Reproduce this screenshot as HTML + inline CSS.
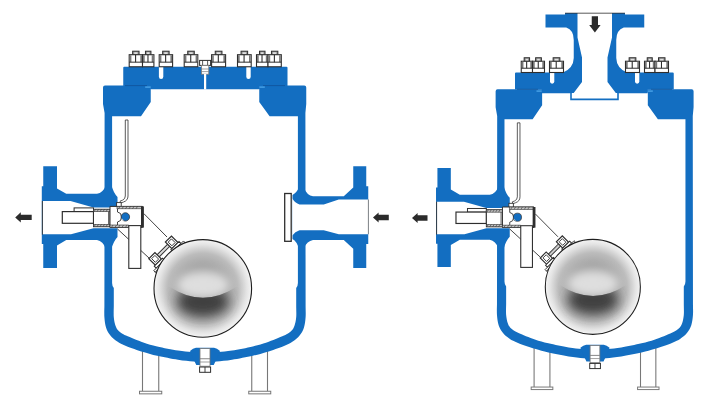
<!DOCTYPE html>
<html lang="en"><head><meta charset="utf-8"><title>Float trap section diagrams</title>
<style>
html,body{margin:0;padding:0;background:#fff;}
body{width:706px;height:404px;overflow:hidden;font-family:"Liberation Sans",sans-serif;}
svg{display:block;}
</style></head><body>
<svg width="706" height="404" viewBox="0 0 706 404">
<defs>
<radialGradient id="fga" cx="202.8" cy="288.4" r="48.8" gradientUnits="userSpaceOnUse">
<stop offset="0" stop-color="#909090"/><stop offset="0.45" stop-color="#a2a2a2"/><stop offset="0.72" stop-color="#bcbcbc"/><stop offset="0.9" stop-color="#e4e4e4"/><stop offset="1" stop-color="#f4f4f4"/></radialGradient>
<filter id="b5a" x="-50%" y="-50%" width="200%" height="200%"><feGaussianBlur stdDeviation="5"/></filter>
<filter id="b4a" x="-50%" y="-50%" width="200%" height="200%"><feGaussianBlur stdDeviation="6"/></filter>
<clipPath id="fca"><path d="M150,235 L256,235 L256,287 L236,287 Q203,308.5 170,287 L150,287 Z"/></clipPath>
<clipPath id="fda"><path d="M169,286.5 Q203,309 237,286.5 L252,300 L240,338 L166,338 L154,300 Z"/></clipPath>
<radialGradient id="fgb" cx="202.8" cy="288.4" r="48.8" gradientUnits="userSpaceOnUse">
<stop offset="0" stop-color="#909090"/><stop offset="0.45" stop-color="#a2a2a2"/><stop offset="0.72" stop-color="#bcbcbc"/><stop offset="0.9" stop-color="#e4e4e4"/><stop offset="1" stop-color="#f4f4f4"/></radialGradient>
<filter id="b5b" x="-50%" y="-50%" width="200%" height="200%"><feGaussianBlur stdDeviation="5"/></filter>
<filter id="b4b" x="-50%" y="-50%" width="200%" height="200%"><feGaussianBlur stdDeviation="6"/></filter>
<clipPath id="fcb"><path d="M150,235 L256,235 L256,287 L236,287 Q203,308.5 170,287 L150,287 Z"/></clipPath>
<clipPath id="fdb"><path d="M169,286.5 Q203,309 237,286.5 L252,300 L240,338 L166,338 L154,300 Z"/></clipPath>
</defs>
<rect width="706" height="404" fill="#fff"/>
<g id="left-figure">
<path d="M142.5,340 L142.5,391.25 M158.75,340 L158.75,391.25" stroke="#777" stroke-width="1.1" fill="none"/>
<rect x="139.5" y="391.25" width="22.25" height="2.6" fill="#fff" stroke="#777" stroke-width="1"/>
<path d="M251.75,340 L251.75,391.25 M267.5,340 L267.5,391.25" stroke="#777" stroke-width="1.1" fill="none"/>
<rect x="248.75" y="391.25" width="22.0" height="2.6" fill="#fff" stroke="#777" stroke-width="1"/>
<path fill="#136ec1" d="M105,85.5 L304.25,85.5 Q306.25,85.5 306.25,87.5 L306.25,104 L305.4,113 L305.6,300 L305.60,306.00 C305.60,307.88 305.88,313.68 305.60,317.30 C305.32,320.92 304.90,324.67 303.90,327.70 C302.90,330.73 301.47,333.18 299.60,335.50 C297.73,337.82 295.30,339.87 292.70,341.60 C290.10,343.33 288.33,344.17 284.00,345.90 C279.67,347.63 271.90,350.35 266.70,352.00 C261.50,353.65 258.58,354.50 252.80,355.80 C247.02,357.10 238.05,358.83 232.00,359.80 C225.95,360.77 221.00,361.20 216.50,361.60 C212.00,362.00 208.83,362.20 205.00,362.20 C201.17,362.20 198.00,362.00 193.50,361.60 C189.00,361.20 184.05,360.77 178.00,359.80 C171.95,358.83 162.98,357.10 157.20,355.80 C151.42,354.50 148.50,353.65 143.30,352.00 C138.10,350.35 130.33,347.63 126.00,345.90 C121.67,344.17 119.90,343.33 117.30,341.60 C114.70,339.87 112.27,337.82 110.40,335.50 C108.53,333.18 107.10,330.73 106.10,327.70 C105.10,324.67 104.68,320.92 104.40,317.30 C104.12,313.68 104.40,307.88 104.40,306.00 L104.6,113 L103,104 L103,87.5 Q103,85.5 105,85.5 Z"/>
<path fill="#136ec1" d="M43.25,166.25 L57,166.25 L57,188.5 L66.25,193.75 L97,193.75 Q103,193 106,185 L111,185 Q113,193 117.5,197 L117.5,237 Q113,241 111,249 L106,249 Q103,241 97,240 L66.25,240 L57,245.5 L57,268 L43.25,268 L43.25,244 L41.8,244 L41.8,186.25 L43.25,186.25 Z"/>
<path fill="#136ec1" d="M366.25,166.25 L353.25,166.25 L353.25,187.5 L343.75,196.25 L313,196.25 Q307,195.5 304,188 L299,188 Q297,192.5 292.5,195 L292.5,239 Q297,241.5 299,248 L304,248 Q307,241 313,240 L343.75,240 L353.25,248.75 L353.25,268 L366.25,268 L366.25,244 L368.25,244 L368.25,186.25 L366.25,186.25 Z"/>
<path fill="#fff" d="M150.75,88.75 L259.25,88.75 L259.25,102 L269.6,116.25 L297.9,116.25 L297.9,283 Q297.9,286 296.2,288 L296.20,306.00 C296.20,307.88 296.50,313.97 296.20,317.30 C295.90,320.63 295.27,323.68 294.40,326.00 C293.53,328.32 292.73,329.62 291.00,331.20 C289.27,332.78 288.05,333.63 284.00,335.50 C279.95,337.37 271.90,340.58 266.70,342.40 C261.50,344.22 258.58,345.03 252.80,346.40 C247.02,347.77 237.77,349.65 232.00,350.60 C226.23,351.55 222.70,351.75 218.20,352.10 C213.70,352.45 209.40,352.70 205.00,352.70 C200.60,352.70 196.30,352.45 191.80,352.10 C187.30,351.75 183.77,351.55 178.00,350.60 C172.23,349.65 162.98,347.77 157.20,346.40 C151.42,345.03 148.50,344.22 143.30,342.40 C138.10,340.58 130.05,337.37 126.00,335.50 C121.95,333.63 120.73,332.78 119.00,331.20 C117.27,329.62 116.47,328.32 115.60,326.00 C114.73,323.68 114.10,320.63 113.80,317.30 C113.50,313.97 113.80,307.88 113.80,306.00 L113.8,288 Q112.1,286 112.1,283 L112.1,116.25 L141,116.25 L150.75,102 Z"/>
<path fill="#136ec1" d="M111,184 Q113.5,193 117.5,197 L117.5,237 Q113.5,241 111,250 Z"/>
<path fill="#136ec1" d="M299,187 Q297,192.5 292.5,195 L292.5,239 Q297,241.5 299,249 Z"/>
<path fill="#fff" d="M368.5,199.5 L338.75,199.5 L323.75,204.5 L299.5,204.5 Q295,203 292.3,198.5 L292.3,235.5 Q295,231.5 299.5,230.25 L323.75,230.25 L338.75,234.25 L368.5,234.25 Z"/>
<rect x="284.7" y="193.5" width="6.5" height="47.8" fill="#fff" stroke="#2e2e2e" stroke-width="1.3"/>
<line x1="368.4" y1="199.5" x2="368.4" y2="234.25" stroke="#555" stroke-width="0.7"/>
<path fill="#fff" d="M42.6,201 L70.5,201 L93.5,207.5 L117.8,207.5 L117.8,228.3 L93.5,228.3 L71,234.3 L42.6,234.3 Z"/>
<line x1="42.4" y1="201" x2="42.4" y2="234.7" stroke="#2e2e2e" stroke-width="0.9"/>
<path fill="#136ec1" d="M190,351 Q193,348 196,347.8 L214,347.8 Q217,348 220,351 L217,358 L213.75,365 L196.25,365 L193,358 Z"/>
<rect x="200" y="348.6" width="10" height="17.6" fill="#fff" stroke="#777" stroke-width="0.8"/>
<line x1="200" y1="358.75" x2="210" y2="358.75" stroke="#777" stroke-width="0.9"/>
<line x1="200" y1="362" x2="210" y2="362" stroke="#777" stroke-width="0.7"/>
<rect x="199.6" y="367" width="11" height="5.3" fill="#fff" stroke="#2e2e2e" stroke-width="1"/>
<line x1="205" y1="367" x2="205" y2="372.3" stroke="#2e2e2e" stroke-width="0.9"/>
<path d="M125.3,120 L128,120 L128,196 Q128,200.5 123.5,202 L121,203 L120,201.2 L122.5,200.2 Q125.3,199 125.3,196 Z" fill="#fff" stroke="#2e2e2e" stroke-width="0.8"/>
<rect x="116.6" y="202.6" width="4.6" height="4.6" fill="#fff" stroke="#2e2e2e" stroke-width="0.9"/>
<path d="M143.75,213.5 L167,237 M117.5,229 L149,258" stroke="#2e2e2e" stroke-width="0.9" fill="none"/>
<rect x="74.1" y="207.9" width="19.4" height="3.8" fill="#fff" stroke="#2e2e2e" stroke-width="1"/>
<rect x="62.3" y="211.6" width="31.2" height="11.7" fill="#fff" stroke="#2e2e2e" stroke-width="1.2"/>
<rect x="93.5" y="209.3" width="16.5" height="17.4" fill="#fff" stroke="#2e2e2e" stroke-width="1"/>
<rect x="93.5" y="209.3" width="16.5" height="2.4" fill="#c4c4c4" stroke="#2e2e2e" stroke-width="0.6"/>
<rect x="93.5" y="224.3" width="16.5" height="2.4" fill="#c4c4c4" stroke="#2e2e2e" stroke-width="0.6"/>
<path d="M95.5,209.3 l-1.5,2.4 M98.5,209.3 l-1.5,2.4 M101.5,209.3 l-1.5,2.4 M104.5,209.3 l-1.5,2.4 M107.5,209.3 l-1.5,2.4 M95.5,224.3 l-1.5,2.4 M98.5,224.3 l-1.5,2.4 M101.5,224.3 l-1.5,2.4 M104.5,224.3 l-1.5,2.4 M107.5,224.3 l-1.5,2.4" stroke="#2e2e2e" stroke-width="0.6"/>
<line x1="108.6" y1="211.7" x2="108.6" y2="224.3" stroke="#2e2e2e" stroke-width="0.8"/>
<path d="M110,206.4 L142.4,206.4 L142.4,227.4 L110,227.4 Z" fill="#fff" stroke="#2e2e2e" stroke-width="1"/>
<rect x="117" y="206.4" width="25" height="2.4" fill="#c4c4c4" stroke="#2e2e2e" stroke-width="0.6"/>
<rect x="110" y="225" width="18.6" height="2.4" fill="#c4c4c4" stroke="#2e2e2e" stroke-width="0.6"/>
<path d="M120,206.4 l-1.5,2.4 M123.5,206.4 l-1.5,2.4 M127,206.4 l-1.5,2.4 M130.5,206.4 l-1.5,2.4 M134,206.4 l-1.5,2.4 M137.5,206.4 l-1.5,2.4 M113,225 l-1.5,2.4 M116.5,225 l-1.5,2.4 M120,225 l-1.5,2.4 M123.5,225 l-1.5,2.4 M127,225 l-1.5,2.4" stroke="#2e2e2e" stroke-width="0.6"/>
<rect x="141" y="206.4" width="2.9" height="21.2" fill="#2e2e2e"/>
<path d="M117.5,209 L117.5,212 Q121.5,212.5 121.5,217 Q121.5,221.5 117.5,222 L117.5,225" fill="none" stroke="#2e2e2e" stroke-width="0.9"/>
<circle cx="125.4" cy="216.9" r="4.2" fill="#136ec1" stroke="#2e2e2e" stroke-width="0.7"/>
<path d="M121.4,218 A4.2,4.2 0 0 0 124.3,221 Z" fill="#fff"/>
<rect x="128.8" y="225.6" width="12" height="42.8" fill="#fff" stroke="#2e2e2e" stroke-width="1.1"/>
<g transform="translate(163.4,250.6) rotate(-45)">
<path d="M-8,-1.5 L8,-1.5 M-8,1.5 L8,1.5" stroke="#2e2e2e" stroke-width="1"/>
<path d="M-8,-0.4 L8,-0.4 M-8,0.6 L8,0.6" stroke="#888" stroke-width="0.5"/>
<rect x="-16" y="-4.6" width="8.6" height="9.2" fill="#fff" stroke="#2e2e2e" stroke-width="1.2"/>
<rect x="7.4" y="-4.6" width="8.6" height="9.2" fill="#fff" stroke="#2e2e2e" stroke-width="1.2"/>
<rect x="-14" y="-2.6" width="4.6" height="5.2" fill="#fff" stroke="#2e2e2e" stroke-width="0.9"/>
<rect x="9.4" y="-2.6" width="4.6" height="5.2" fill="#fff" stroke="#2e2e2e" stroke-width="0.9"/>
<path d="M-17.5,4.6 L-6,4.6 L-6,7.4 L-17.5,7.4 Z M6,4.6 L17.5,4.6 L17.5,7.4 L6,7.4 Z" fill="#fff" stroke="#2e2e2e" stroke-width="1"/>
<path d="M-21,7.4 L21,7.4 L21,9.6 L-21,9.6 Z" fill="#fff" stroke="#2e2e2e" stroke-width="0.9"/>
<path d="M-21,9.6 L21,9.6 L21,12 L-21,12 Z" fill="#fff" stroke="#2e2e2e" stroke-width="0.8"/>
</g>
<circle cx="202.8" cy="288.4" r="48.8" fill="url(#fga)"/>
<g clip-path="url(#fca)"><ellipse cx="203" cy="285" rx="27" ry="14" fill="#dedede" filter="url(#b5a)"/></g>
<g clip-path="url(#fda)"><ellipse cx="203" cy="302" rx="26" ry="15" fill="#414141" filter="url(#b4a)"/></g>
<circle cx="202.8" cy="288.4" r="48.8" fill="none" stroke="#1e1e1e" stroke-width="1.1"/>
<path fill="#136ec1" d="M124.2,66.75 L286.5,66.75 Q287.5,66.75 287.5,67.75 L287.5,86 L259.25,86 L259.25,89.2 L150.75,89.2 L150.75,86 L123.25,86 L123.25,67.75 Q123.25,66.75 124.2,66.75 Z"/>
<path d="M125,85.6 L147,85.6 M263,85.6 L285,85.6" stroke="#0e4f94" stroke-width="0.7"/>
<rect x="145.2" y="86.4" width="5.5" height="1.4" fill="#4aa3e8"/><rect x="259.3" y="86.4" width="5.5" height="1.4" fill="#4aa3e8"/>
<path d="M158.9,66.5 L158.9,76.8 A2.200000000000003,2.200000000000003 0 0 0 163.3,76.8 L163.3,66.5 Z" fill="#fff"/>
<path d="M246.3,66.5 L246.3,76.80000000000001 A2.1999999999999886,2.1999999999999886 0 0 0 250.7,76.80000000000001 L250.7,66.5 Z" fill="#fff"/>
<rect x="132.66" y="51.20" width="6.38" height="3.8" fill="#9a9a9a" stroke="#2e2e2e" stroke-width="1"/>
<rect x="134.26" y="52.30" width="3.18" height="2" fill="#e0e0e0"/>
<rect x="129.20" y="54.70" width="13.30" height="12.05" fill="#fff" stroke="#2e2e2e" stroke-width="1.1"/>
<rect x="129.70" y="55.20" width="1.7" height="6.97" fill="#777"/>
<rect x="140.30" y="55.20" width="1.7" height="6.97" fill="#777"/>
<line x1="129.20" y1="62.17" x2="142.50" y2="62.17" stroke="#2e2e2e" stroke-width="1"/>
<line x1="135.58" y1="54.70" x2="135.58" y2="62.17" stroke="#2e2e2e" stroke-width="1.1"/>
<rect x="145.46" y="51.20" width="5.47" height="3.8" fill="#9a9a9a" stroke="#2e2e2e" stroke-width="1"/>
<rect x="147.06" y="52.30" width="2.27" height="2" fill="#e0e0e0"/>
<rect x="142.50" y="54.70" width="11.40" height="12.05" fill="#fff" stroke="#2e2e2e" stroke-width="1.1"/>
<rect x="143.00" y="55.20" width="1.7" height="6.97" fill="#777"/>
<rect x="151.70" y="55.20" width="1.7" height="6.97" fill="#777"/>
<line x1="142.50" y1="62.17" x2="153.90" y2="62.17" stroke="#2e2e2e" stroke-width="1"/>
<line x1="147.97" y1="54.70" x2="147.97" y2="62.17" stroke="#2e2e2e" stroke-width="1.1"/>
<rect x="162.68" y="51.20" width="6.43" height="3.8" fill="#9a9a9a" stroke="#2e2e2e" stroke-width="1"/>
<rect x="164.28" y="52.30" width="3.23" height="2" fill="#e0e0e0"/>
<rect x="159.20" y="54.70" width="13.40" height="12.05" fill="#fff" stroke="#2e2e2e" stroke-width="1.1"/>
<rect x="159.70" y="55.20" width="1.7" height="6.97" fill="#777"/>
<rect x="170.40" y="55.20" width="1.7" height="6.97" fill="#777"/>
<line x1="159.20" y1="62.17" x2="172.60" y2="62.17" stroke="#2e2e2e" stroke-width="1"/>
<line x1="165.63" y1="54.70" x2="165.63" y2="62.17" stroke="#2e2e2e" stroke-width="1.1"/>
<rect x="187.74" y="51.20" width="6.53" height="3.8" fill="#9a9a9a" stroke="#2e2e2e" stroke-width="1"/>
<rect x="189.34" y="52.30" width="3.33" height="2" fill="#e0e0e0"/>
<rect x="184.20" y="54.70" width="13.60" height="12.05" fill="#fff" stroke="#2e2e2e" stroke-width="1.1"/>
<rect x="184.70" y="55.20" width="1.7" height="6.97" fill="#777"/>
<rect x="195.60" y="55.20" width="1.7" height="6.97" fill="#777"/>
<line x1="184.20" y1="62.17" x2="197.80" y2="62.17" stroke="#2e2e2e" stroke-width="1"/>
<line x1="190.73" y1="54.70" x2="190.73" y2="62.17" stroke="#2e2e2e" stroke-width="1.1"/>
<rect x="215.24" y="51.20" width="6.72" height="3.8" fill="#9a9a9a" stroke="#2e2e2e" stroke-width="1"/>
<rect x="216.84" y="52.30" width="3.52" height="2" fill="#e0e0e0"/>
<rect x="211.60" y="54.70" width="14.00" height="12.05" fill="#fff" stroke="#2e2e2e" stroke-width="1.1"/>
<rect x="212.10" y="55.20" width="1.7" height="6.97" fill="#777"/>
<rect x="223.40" y="55.20" width="1.7" height="6.97" fill="#777"/>
<line x1="211.60" y1="62.17" x2="225.60" y2="62.17" stroke="#2e2e2e" stroke-width="1"/>
<line x1="218.32" y1="54.70" x2="218.32" y2="62.17" stroke="#2e2e2e" stroke-width="1.1"/>
<rect x="241.06" y="51.20" width="6.58" height="3.8" fill="#9a9a9a" stroke="#2e2e2e" stroke-width="1"/>
<rect x="242.66" y="52.30" width="3.38" height="2" fill="#e0e0e0"/>
<rect x="237.50" y="54.70" width="13.70" height="12.05" fill="#fff" stroke="#2e2e2e" stroke-width="1.1"/>
<rect x="238.00" y="55.20" width="1.7" height="6.97" fill="#777"/>
<rect x="249.00" y="55.20" width="1.7" height="6.97" fill="#777"/>
<line x1="237.50" y1="62.17" x2="251.20" y2="62.17" stroke="#2e2e2e" stroke-width="1"/>
<line x1="244.08" y1="54.70" x2="244.08" y2="62.17" stroke="#2e2e2e" stroke-width="1.1"/>
<rect x="259.49" y="51.20" width="5.52" height="3.8" fill="#9a9a9a" stroke="#2e2e2e" stroke-width="1"/>
<rect x="261.09" y="52.30" width="2.32" height="2" fill="#e0e0e0"/>
<rect x="256.50" y="54.70" width="11.50" height="12.05" fill="#fff" stroke="#2e2e2e" stroke-width="1.1"/>
<rect x="257.00" y="55.20" width="1.7" height="6.97" fill="#777"/>
<rect x="265.80" y="55.20" width="1.7" height="6.97" fill="#777"/>
<line x1="256.50" y1="62.17" x2="268.00" y2="62.17" stroke="#2e2e2e" stroke-width="1"/>
<line x1="262.02" y1="54.70" x2="262.02" y2="62.17" stroke="#2e2e2e" stroke-width="1.1"/>
<rect x="271.46" y="51.20" width="6.38" height="3.8" fill="#9a9a9a" stroke="#2e2e2e" stroke-width="1"/>
<rect x="273.06" y="52.30" width="3.18" height="2" fill="#e0e0e0"/>
<rect x="268.00" y="54.70" width="13.30" height="12.05" fill="#fff" stroke="#2e2e2e" stroke-width="1.1"/>
<rect x="268.50" y="55.20" width="1.7" height="6.97" fill="#777"/>
<rect x="279.10" y="55.20" width="1.7" height="6.97" fill="#777"/>
<line x1="268.00" y1="62.17" x2="281.30" y2="62.17" stroke="#2e2e2e" stroke-width="1"/>
<line x1="274.38" y1="54.70" x2="274.38" y2="62.17" stroke="#2e2e2e" stroke-width="1.1"/>
<rect x="199.6" y="60.4" width="11" height="5" fill="#fff" stroke="#2e2e2e" stroke-width="1"/>
<line x1="202.6" y1="60.4" x2="202.6" y2="65.4" stroke="#2e2e2e" stroke-width="0.8"/><line x1="207.6" y1="60.4" x2="207.6" y2="65.4" stroke="#2e2e2e" stroke-width="0.8"/>
<rect x="201.4" y="65.4" width="7.4" height="8.8" fill="#fff" stroke="#777" stroke-width="0.8"/>
<line x1="201.4" y1="69" x2="208.8" y2="69" stroke="#777" stroke-width="0.7"/><line x1="201.4" y1="71.6" x2="208.8" y2="71.6" stroke="#777" stroke-width="0.7"/>
<rect x="204" y="74" width="2.2" height="15.4" fill="#fff"/>
<path d="M15.2,217.4 L20.799999999999997,212.3 L20.799999999999997,214.70000000000002 L31.7,214.70000000000002 L31.7,220.1 L20.799999999999997,220.1 L20.799999999999997,222.5 Z" fill="#2b2b2b"/>
<path d="M373,217.5 L378.6,212.4 L378.6,214.8 L388.8,214.8 L388.8,220.2 L378.6,220.2 L378.6,222.6 Z" fill="#2b2b2b"/>
</g>
<g id="right-figure">
<g transform="translate(395.3,5.97) scale(0.974)">
<path d="M142.5,340 L142.5,391.25 M158.75,340 L158.75,391.25" stroke="#777" stroke-width="1.1" fill="none"/>
<rect x="139.5" y="391.25" width="22.25" height="2.6" fill="#fff" stroke="#777" stroke-width="1"/>
<path d="M251.75,340 L251.75,391.25 M267.5,340 L267.5,391.25" stroke="#777" stroke-width="1.1" fill="none"/>
<rect x="248.75" y="391.25" width="22.0" height="2.6" fill="#fff" stroke="#777" stroke-width="1"/>
<path fill="#136ec1" d="M105,85.5 L304.25,85.5 Q306.25,85.5 306.25,87.5 L306.25,104 L305.4,113 L305.6,300 L305.60,306.00 C305.60,307.88 305.88,313.68 305.60,317.30 C305.32,320.92 304.90,324.67 303.90,327.70 C302.90,330.73 301.47,333.18 299.60,335.50 C297.73,337.82 295.30,339.87 292.70,341.60 C290.10,343.33 288.33,344.17 284.00,345.90 C279.67,347.63 271.90,350.35 266.70,352.00 C261.50,353.65 258.58,354.50 252.80,355.80 C247.02,357.10 238.05,358.83 232.00,359.80 C225.95,360.77 221.00,361.20 216.50,361.60 C212.00,362.00 208.83,362.20 205.00,362.20 C201.17,362.20 198.00,362.00 193.50,361.60 C189.00,361.20 184.05,360.77 178.00,359.80 C171.95,358.83 162.98,357.10 157.20,355.80 C151.42,354.50 148.50,353.65 143.30,352.00 C138.10,350.35 130.33,347.63 126.00,345.90 C121.67,344.17 119.90,343.33 117.30,341.60 C114.70,339.87 112.27,337.82 110.40,335.50 C108.53,333.18 107.10,330.73 106.10,327.70 C105.10,324.67 104.68,320.92 104.40,317.30 C104.12,313.68 104.40,307.88 104.40,306.00 L104.6,113 L103,104 L103,87.5 Q103,85.5 105,85.5 Z"/>
<path fill="#136ec1" d="M43.25,166.25 L57,166.25 L57,188.5 L66.25,193.75 L97,193.75 Q103,193 106,185 L111,185 Q113,193 117.5,197 L117.5,237 Q113,241 111,249 L106,249 Q103,241 97,240 L66.25,240 L57,245.5 L57,268 L43.25,268 L43.25,244 L41.8,244 L41.8,186.25 L43.25,186.25 Z"/>
<path fill="#fff" d="M150.75,88.75 L259.25,88.75 L259.25,102 L269.6,116.25 L297.9,116.25 L297.9,283 Q297.9,286 296.2,288 L296.20,306.00 C296.20,307.88 296.50,313.97 296.20,317.30 C295.90,320.63 295.27,323.68 294.40,326.00 C293.53,328.32 292.73,329.62 291.00,331.20 C289.27,332.78 288.05,333.63 284.00,335.50 C279.95,337.37 271.90,340.58 266.70,342.40 C261.50,344.22 258.58,345.03 252.80,346.40 C247.02,347.77 237.77,349.65 232.00,350.60 C226.23,351.55 222.70,351.75 218.20,352.10 C213.70,352.45 209.40,352.70 205.00,352.70 C200.60,352.70 196.30,352.45 191.80,352.10 C187.30,351.75 183.77,351.55 178.00,350.60 C172.23,349.65 162.98,347.77 157.20,346.40 C151.42,345.03 148.50,344.22 143.30,342.40 C138.10,340.58 130.05,337.37 126.00,335.50 C121.95,333.63 120.73,332.78 119.00,331.20 C117.27,329.62 116.47,328.32 115.60,326.00 C114.73,323.68 114.10,320.63 113.80,317.30 C113.50,313.97 113.80,307.88 113.80,306.00 L113.8,288 Q112.1,286 112.1,283 L112.1,116.25 L141,116.25 L150.75,102 Z"/>
<path fill="#136ec1" d="M111,184 Q113.5,193 117.5,197 L117.5,237 Q113.5,241 111,250 Z"/>
<path fill="#fff" d="M42.6,201 L70.5,201 L93.5,207.5 L117.8,207.5 L117.8,228.3 L93.5,228.3 L71,234.3 L42.6,234.3 Z"/>
<line x1="42.4" y1="201" x2="42.4" y2="234.7" stroke="#2e2e2e" stroke-width="0.9"/>
<path fill="#136ec1" d="M190,351 Q193,348 196,347.8 L214,347.8 Q217,348 220,351 L217,358 L213.75,365 L196.25,365 L193,358 Z"/>
<rect x="200" y="348.6" width="10" height="17.6" fill="#fff" stroke="#777" stroke-width="0.8"/>
<line x1="200" y1="358.75" x2="210" y2="358.75" stroke="#777" stroke-width="0.9"/>
<line x1="200" y1="362" x2="210" y2="362" stroke="#777" stroke-width="0.7"/>
<rect x="199.6" y="367" width="11" height="5.3" fill="#fff" stroke="#2e2e2e" stroke-width="1"/>
<line x1="205" y1="367" x2="205" y2="372.3" stroke="#2e2e2e" stroke-width="0.9"/>
<path d="M125.3,120 L128,120 L128,196 Q128,200.5 123.5,202 L121,203 L120,201.2 L122.5,200.2 Q125.3,199 125.3,196 Z" fill="#fff" stroke="#2e2e2e" stroke-width="0.8"/>
<rect x="116.6" y="202.6" width="4.6" height="4.6" fill="#fff" stroke="#2e2e2e" stroke-width="0.9"/>
<path d="M143.75,213.5 L167,237 M117.5,229 L149,258" stroke="#2e2e2e" stroke-width="0.9" fill="none"/>
<rect x="74.1" y="207.9" width="19.4" height="3.8" fill="#fff" stroke="#2e2e2e" stroke-width="1"/>
<rect x="62.3" y="211.6" width="31.2" height="11.7" fill="#fff" stroke="#2e2e2e" stroke-width="1.2"/>
<rect x="93.5" y="209.3" width="16.5" height="17.4" fill="#fff" stroke="#2e2e2e" stroke-width="1"/>
<rect x="93.5" y="209.3" width="16.5" height="2.4" fill="#c4c4c4" stroke="#2e2e2e" stroke-width="0.6"/>
<rect x="93.5" y="224.3" width="16.5" height="2.4" fill="#c4c4c4" stroke="#2e2e2e" stroke-width="0.6"/>
<path d="M95.5,209.3 l-1.5,2.4 M98.5,209.3 l-1.5,2.4 M101.5,209.3 l-1.5,2.4 M104.5,209.3 l-1.5,2.4 M107.5,209.3 l-1.5,2.4 M95.5,224.3 l-1.5,2.4 M98.5,224.3 l-1.5,2.4 M101.5,224.3 l-1.5,2.4 M104.5,224.3 l-1.5,2.4 M107.5,224.3 l-1.5,2.4" stroke="#2e2e2e" stroke-width="0.6"/>
<line x1="108.6" y1="211.7" x2="108.6" y2="224.3" stroke="#2e2e2e" stroke-width="0.8"/>
<path d="M110,206.4 L142.4,206.4 L142.4,227.4 L110,227.4 Z" fill="#fff" stroke="#2e2e2e" stroke-width="1"/>
<rect x="117" y="206.4" width="25" height="2.4" fill="#c4c4c4" stroke="#2e2e2e" stroke-width="0.6"/>
<rect x="110" y="225" width="18.6" height="2.4" fill="#c4c4c4" stroke="#2e2e2e" stroke-width="0.6"/>
<path d="M120,206.4 l-1.5,2.4 M123.5,206.4 l-1.5,2.4 M127,206.4 l-1.5,2.4 M130.5,206.4 l-1.5,2.4 M134,206.4 l-1.5,2.4 M137.5,206.4 l-1.5,2.4 M113,225 l-1.5,2.4 M116.5,225 l-1.5,2.4 M120,225 l-1.5,2.4 M123.5,225 l-1.5,2.4 M127,225 l-1.5,2.4" stroke="#2e2e2e" stroke-width="0.6"/>
<rect x="141" y="206.4" width="2.9" height="21.2" fill="#2e2e2e"/>
<path d="M117.5,209 L117.5,212 Q121.5,212.5 121.5,217 Q121.5,221.5 117.5,222 L117.5,225" fill="none" stroke="#2e2e2e" stroke-width="0.9"/>
<circle cx="125.4" cy="216.9" r="4.2" fill="#136ec1" stroke="#2e2e2e" stroke-width="0.7"/>
<path d="M121.4,218 A4.2,4.2 0 0 0 124.3,221 Z" fill="#fff"/>
<rect x="128.8" y="225.6" width="12" height="42.8" fill="#fff" stroke="#2e2e2e" stroke-width="1.1"/>
<g transform="translate(163.4,250.6) rotate(-45)">
<path d="M-8,-1.5 L8,-1.5 M-8,1.5 L8,1.5" stroke="#2e2e2e" stroke-width="1"/>
<path d="M-8,-0.4 L8,-0.4 M-8,0.6 L8,0.6" stroke="#888" stroke-width="0.5"/>
<rect x="-16" y="-4.6" width="8.6" height="9.2" fill="#fff" stroke="#2e2e2e" stroke-width="1.2"/>
<rect x="7.4" y="-4.6" width="8.6" height="9.2" fill="#fff" stroke="#2e2e2e" stroke-width="1.2"/>
<rect x="-14" y="-2.6" width="4.6" height="5.2" fill="#fff" stroke="#2e2e2e" stroke-width="0.9"/>
<rect x="9.4" y="-2.6" width="4.6" height="5.2" fill="#fff" stroke="#2e2e2e" stroke-width="0.9"/>
<path d="M-17.5,4.6 L-6,4.6 L-6,7.4 L-17.5,7.4 Z M6,4.6 L17.5,4.6 L17.5,7.4 L6,7.4 Z" fill="#fff" stroke="#2e2e2e" stroke-width="1"/>
<path d="M-21,7.4 L21,7.4 L21,9.6 L-21,9.6 Z" fill="#fff" stroke="#2e2e2e" stroke-width="0.9"/>
<path d="M-21,9.6 L21,9.6 L21,12 L-21,12 Z" fill="#fff" stroke="#2e2e2e" stroke-width="0.8"/>
</g>
<circle cx="202.8" cy="288.4" r="48.8" fill="url(#fgb)"/>
<g clip-path="url(#fcb)"><ellipse cx="203" cy="285" rx="27" ry="14" fill="#dedede" filter="url(#b5b)"/></g>
<g clip-path="url(#fdb)"><ellipse cx="203" cy="302" rx="26" ry="15" fill="#414141" filter="url(#b4b)"/></g>
<circle cx="202.8" cy="288.4" r="48.8" fill="none" stroke="#1e1e1e" stroke-width="1.1"/>
</g>
<path fill="#136ec1" d="M516,72.5 L672.75,72.5 Q673.75,72.5 673.75,73.5 L673.75,89.6 L647.5,89.6 L647.5,93.2 L541.75,93.2 L541.75,89.6 L515,89.6 L515,73.5 Q515,72.5 516,72.5 Z"/>
<path fill="#136ec1" d="M545.5,14.5 L565,14.5 L565,13 L625,13 L625,14.5 L644.25,14.5 L644.25,27.5 L623.75,27.5 Q616.25,30 616.25,40 L616.25,58 Q616.5,68 627,72.6 L627,76 L563,76 L563,72.6 Q573.5,68 573.75,58 L573.75,40 Q573.75,30 566.25,27.5 L545.5,27.5 Z"/>
<path fill="#fff" d="M577.5,12.5 L612,12.5 L612,37.5 L607.5,57.5 L607.5,82 L615.8,93 L617.5,93 L617.5,98.6 L571.5,98.6 L571.5,93 L573.7,93 L582,82 L582,57.5 L577.5,37.5 Z"/>
<line x1="565" y1="13.2" x2="625" y2="13.2" stroke="#2e2e2e" stroke-width="0.8"/>
<path d="M517,89.3 L538,89.3 M651,89.3 L672,89.3" stroke="#0e4f94" stroke-width="0.7"/>
<rect x="536.5" y="90.4" width="5.2" height="1.4" fill="#4aa3e8"/><rect x="647.6" y="90.4" width="5.2" height="1.4" fill="#4aa3e8"/>
<path d="M571,93 L571,99.4 L618,99.4 L618,93" fill="none" stroke="#136ec1" stroke-width="1.6"/>
<path d="M550,72.2 L550,81.60000000000002 A2.1499999999999773,2.1499999999999773 0 0 0 554.3,81.60000000000002 L554.3,72.2 Z" fill="#fff"/>
<path d="M635,72.2 L635,81.60000000000002 A2.1499999999999773,2.1499999999999773 0 0 0 639.3,81.60000000000002 L639.3,72.2 Z" fill="#fff"/>
<rect x="524.17" y="57.75" width="5.40" height="3.8" fill="#9a9a9a" stroke="#2e2e2e" stroke-width="1"/>
<rect x="525.77" y="58.85" width="2.20" height="2" fill="#e0e0e0"/>
<rect x="521.25" y="61.25" width="11.25" height="11.25" fill="#fff" stroke="#2e2e2e" stroke-width="1.1"/>
<rect x="521.75" y="61.75" width="1.7" height="6.47" fill="#777"/>
<rect x="530.30" y="61.75" width="1.7" height="6.47" fill="#777"/>
<line x1="521.25" y1="68.22" x2="532.50" y2="68.22" stroke="#2e2e2e" stroke-width="1"/>
<line x1="526.65" y1="61.25" x2="526.65" y2="68.22" stroke="#2e2e2e" stroke-width="1.1"/>
<rect x="535.62" y="57.75" width="5.76" height="3.8" fill="#9a9a9a" stroke="#2e2e2e" stroke-width="1"/>
<rect x="537.22" y="58.85" width="2.56" height="2" fill="#e0e0e0"/>
<rect x="532.50" y="61.25" width="12.00" height="11.25" fill="#fff" stroke="#2e2e2e" stroke-width="1.1"/>
<rect x="533.00" y="61.75" width="1.7" height="6.47" fill="#777"/>
<rect x="542.30" y="61.75" width="1.7" height="6.47" fill="#777"/>
<line x1="532.50" y1="68.22" x2="544.50" y2="68.22" stroke="#2e2e2e" stroke-width="1"/>
<line x1="538.26" y1="61.25" x2="538.26" y2="68.22" stroke="#2e2e2e" stroke-width="1.1"/>
<rect x="553.14" y="57.75" width="6.72" height="3.8" fill="#9a9a9a" stroke="#2e2e2e" stroke-width="1"/>
<rect x="554.74" y="58.85" width="3.52" height="2" fill="#e0e0e0"/>
<rect x="549.50" y="61.25" width="14.00" height="11.25" fill="#fff" stroke="#2e2e2e" stroke-width="1.1"/>
<rect x="550.00" y="61.75" width="1.7" height="6.47" fill="#777"/>
<rect x="561.30" y="61.75" width="1.7" height="6.47" fill="#777"/>
<line x1="549.50" y1="68.22" x2="563.50" y2="68.22" stroke="#2e2e2e" stroke-width="1"/>
<line x1="556.22" y1="61.25" x2="556.22" y2="68.22" stroke="#2e2e2e" stroke-width="1.1"/>
<rect x="629.14" y="57.75" width="6.72" height="3.8" fill="#9a9a9a" stroke="#2e2e2e" stroke-width="1"/>
<rect x="630.74" y="58.85" width="3.52" height="2" fill="#e0e0e0"/>
<rect x="625.50" y="61.25" width="14.00" height="11.25" fill="#fff" stroke="#2e2e2e" stroke-width="1.1"/>
<rect x="626.00" y="61.75" width="1.7" height="6.47" fill="#777"/>
<rect x="637.30" y="61.75" width="1.7" height="6.47" fill="#777"/>
<line x1="625.50" y1="68.22" x2="639.50" y2="68.22" stroke="#2e2e2e" stroke-width="1"/>
<line x1="632.22" y1="61.25" x2="632.22" y2="68.22" stroke="#2e2e2e" stroke-width="1.1"/>
<rect x="647.23" y="57.75" width="5.04" height="3.8" fill="#9a9a9a" stroke="#2e2e2e" stroke-width="1"/>
<rect x="648.83" y="58.85" width="1.84" height="2" fill="#e0e0e0"/>
<rect x="644.50" y="61.25" width="10.50" height="11.25" fill="#fff" stroke="#2e2e2e" stroke-width="1.1"/>
<rect x="645.00" y="61.75" width="1.7" height="6.47" fill="#777"/>
<rect x="652.80" y="61.75" width="1.7" height="6.47" fill="#777"/>
<line x1="644.50" y1="68.22" x2="655.00" y2="68.22" stroke="#2e2e2e" stroke-width="1"/>
<line x1="649.54" y1="61.25" x2="649.54" y2="68.22" stroke="#2e2e2e" stroke-width="1.1"/>
<rect x="658.51" y="57.75" width="6.48" height="3.8" fill="#9a9a9a" stroke="#2e2e2e" stroke-width="1"/>
<rect x="660.11" y="58.85" width="3.28" height="2" fill="#e0e0e0"/>
<rect x="655.00" y="61.25" width="13.50" height="11.25" fill="#fff" stroke="#2e2e2e" stroke-width="1.1"/>
<rect x="655.50" y="61.75" width="1.7" height="6.47" fill="#777"/>
<rect x="666.30" y="61.75" width="1.7" height="6.47" fill="#777"/>
<line x1="655.00" y1="68.22" x2="668.50" y2="68.22" stroke="#2e2e2e" stroke-width="1"/>
<line x1="661.48" y1="61.25" x2="661.48" y2="68.22" stroke="#2e2e2e" stroke-width="1.1"/>
<path d="M591.75,16.25 L598,16.25 L598,25 L600.6,25 L594.9,32.5 L589.2,25 L591.75,25 Z" fill="#2b2b2b"/>
<path d="M412,218 L417.6,212.9 L417.6,215.3 L427.5,215.3 L427.5,220.7 L417.6,220.7 L417.6,223.1 Z" fill="#2b2b2b"/>
</g>
</svg>
</body></html>
